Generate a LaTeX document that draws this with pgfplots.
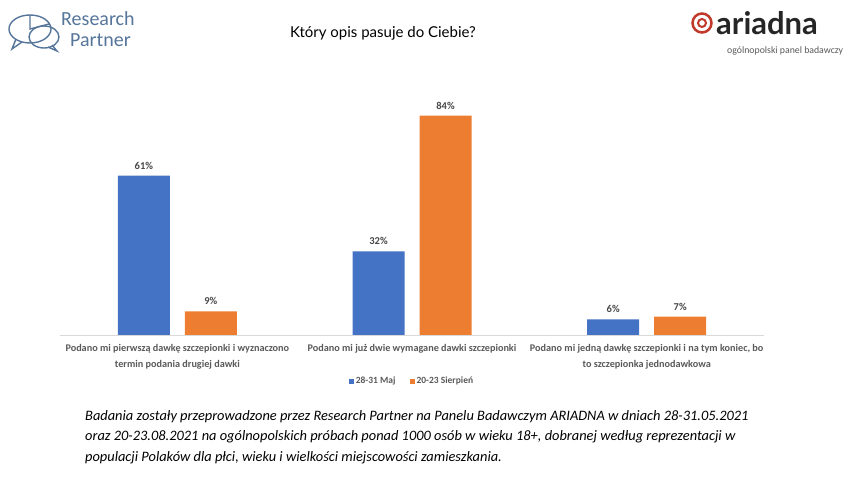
\documentclass[border=0pt]{standalone}
\usepackage{pgfplots}
\pgfplotsset{compat=1.18}
\usepackage{fontspec}
\setmainfont{Carlito}
\newfontfamily\titlefont{Lato}
\definecolor{cblue}{HTML}{4472C4}
\definecolor{corange}{HTML}{ED7D31}
\definecolor{lgray}{HTML}{595959}
\definecolor{rpblue}{HTML}{56759A}
\definecolor{ared}{HTML}{C0392B}
\begin{document}
\begin{tikzpicture}[x=1pt,y=1pt]
\path (0,0) rectangle (852,482);
% title
\node[font=\titlefont\fontsize{15}{17}\selectfont] at (383,449) {Który opis pasuje do Ciebie?};
% Research Partner logo
\begin{scope}[draw=rpblue, line width=1.4pt]
\draw (30,453) ellipse (21 and 14);
\draw (44,445) ellipse (15 and 11);
\draw (30,467) -- (30,453) -- (49,458);
\draw (16,443) -- (12,433) -- (22,440);
\draw (52,437) -- (57,431) -- (48,435);
\end{scope}
\node[anchor=west, text=rpblue, font=\fontsize{20}{20}\selectfont, inner sep=0] at (61,463) {Research};
\node[anchor=west, text=rpblue, font=\fontsize{20}{20}\selectfont, inner sep=0] at (70,442) {Partner};
% ariadna logo
\draw[ared, line width=2.5pt] (702,459) circle (9.5);
\draw[ared, line width=2pt] (702,459) circle (4);
\node[anchor=base west, font=\titlefont\bfseries\fontsize{31}{31}\selectfont, text=black!85, inner sep=0] at (716,447) {ariadna};
\node[anchor=base west, font=\fontsize{9.8}{10}\selectfont, text=lgray, inner sep=0] at (727,428) {ogólnopolski panel badawczy};
% axis
\begin{axis}[
  at={(60pt,147pt)}, anchor=south west,
  scale only axis, width=704pt, height=235pt,
  xmin=-0.5, xmax=2.5, ymin=0, ymax=90,
  ybar=15pt, bar width=52pt,
  axis x line*=bottom, axis y line=none,
  x axis line style={draw=gray!30, line width=0.8pt},
  xtick=data, xtick style={draw=none},
  xticklabels={{Podano mi pierwszą dawkę szczepionki i wyznaczono\\termin podania drugiej dawki},
               {Podano mi już dwie wymagane dawki szczepionki},
               {Podano mi jedną dawkę szczepionki i na tym koniec, bo\\to szczepionka jednodawkowa}},
  xticklabel style={align=center, text=lgray, font=\bfseries\fontsize{10.2}{16}\selectfont, anchor=north, yshift=-2pt},
  ytick=\empty,
  /pgf/number format/assume math mode=true,
  nodes near coords={\pgfmathprintnumber{\pgfplotspointmeta}\%},
  every node near coord/.append style={font=\bfseries\fontsize{10.5}{12}\selectfont, text=lgray!80!black, yshift=3pt},
  legend style={at={(0.5,-0.196)}, anchor=center, draw=none, legend columns=2,
    font=\bfseries\fontsize{9.5}{11}\selectfont, text=lgray,
    /tikz/every even column/.append style={column sep=12pt}},
  legend image code/.code={\fill[#1] (0,-2.5pt) rectangle (5pt,2.5pt);},
]
\addplot[fill=cblue, draw=none] coordinates {(0,61) (1,32) (2,6)};
\addplot[fill=corange, draw=none] coordinates {(0,9) (1,84) (2,7)};
\legend{28-31 Maj, 20-23 Sierpień}
\end{axis}
% footnote
\node[anchor=north west, align=left, inner sep=0, font=\itshape\fontsize{14.4}{20.5}\selectfont] at (85,72) {Badania zostały przeprowadzone przez Research Partner na Panelu Badawczym ARIADNA w dniach 28-31.05.2021\\oraz 20-23.08.2021 na ogólnopolskich próbach ponad 1000 osób w wieku 18+, dobranej według reprezentacji w\\populacji Polaków dla płci, wieku i wielkości miejscowości zamieszkania.};
\end{tikzpicture}
\end{document}
